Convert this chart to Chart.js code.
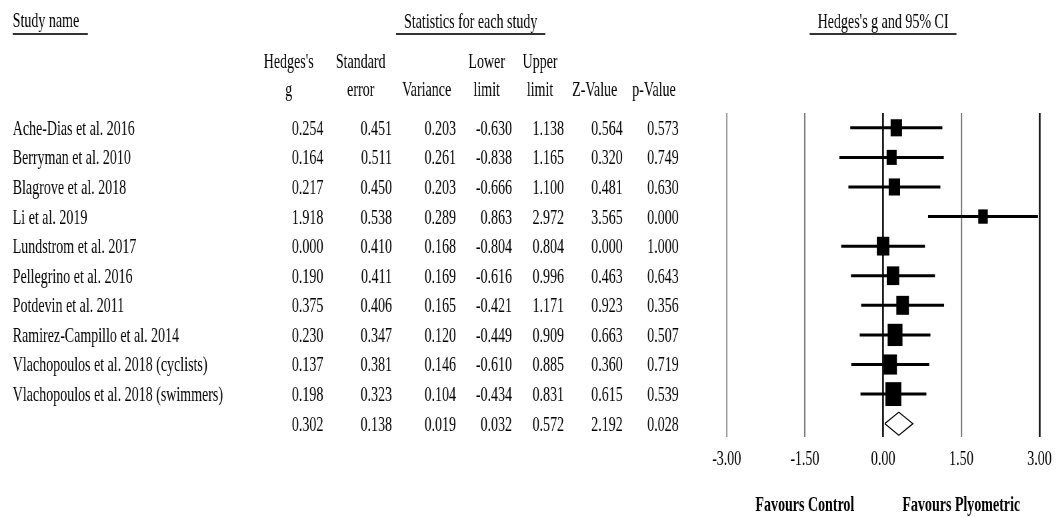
<!DOCTYPE html>
<html>
<head>
<meta charset="utf-8">
<script src="https://cdn.jsdelivr.net/npm/chart.js@4.4.1/dist/chart.umd.min.js"></script>
<style>
  html, body { margin: 0; padding: 0; background: #fff; overflow: hidden; }
  #wrap { position: relative; width: 1062px; height: 517px; overflow: hidden; }
  #c { position: absolute; left: 0; top: 0; transform: scaleX(0.6667); transform-origin: 0 0; }
</style>
</head>
<body>
<div id="wrap"><canvas id="c" width="1593" height="517"></canvas></div>
<script>
// ---------- data ----------
const studies = [
  "Ache-Dias et al. 2016",
  "Berryman et al. 2010",
  "Blagrove et al. 2018",
  "Li et al. 2019",
  "Lundstrom et al. 2017",
  "Pellegrino et al. 2016",
  "Potdevin et al. 2011",
  "Ramirez-Campillo et al. 2014",
  "Vlachopoulos et al. 2018 (cyclists)",
  "Vlachopoulos et al. 2018 (swimmers)"
];
const hedgesG    = [0.254, 0.164, 0.217, 1.918, 0.000, 0.190, 0.375, 0.230, 0.137, 0.198];
const stdError   = [0.451, 0.511, 0.450, 0.538, 0.410, 0.411, 0.406, 0.347, 0.381, 0.323];
const variance   = [0.203, 0.261, 0.203, 0.289, 0.168, 0.169, 0.165, 0.120, 0.146, 0.104];
const lowerLimit = [-0.630, -0.838, -0.666, 0.863, -0.804, -0.616, -0.421, -0.449, -0.610, -0.434];
const upperLimit = [1.138, 1.165, 1.100, 2.972, 0.804, 0.996, 1.171, 0.909, 0.885, 0.831];
const zValue     = [0.564, 0.320, 0.481, 3.565, 0.000, 0.463, 0.923, 0.663, 0.360, 0.615];
const pValue     = [0.573, 0.749, 0.630, 0.000, 1.000, 0.643, 0.356, 0.507, 0.719, 0.539];
// pooled: g, SE, variance, lower, upper, Z, p
const pooledStats = [0.302, 0.138, 0.019, 0.032, 0.572, 2.192, 0.028];

const headerLine1 = ["Hedges's", "Standard", "", "Lower", "Upper", "", ""];
const headerLine2 = ["g", "error", "Variance", "limit", "limit", "Z-Value", "p-Value"];
const xTickValues = [-3, -1.5, 0, 1.5, 3];
const favourLabels = ["Favours Control", "Favours Plyometric"];
const favourAt = [-1.5, 1.5];

// ---------- styling / layout (canvas drawn 1.5x wide, squeezed by CSS) ----------
const FONT = '"Liberation Serif", "Times New Roman", serif';
const FS = 21;
const colCenters = [433, 541, 640, 730, 810, 892, 981];
const colRights  = [485, 588, 684, 768, 846, 934, 1018];
const pooledRow = studies.length;
const gridColors = ['#9c9c9c', '#7c7c7c', '#1c1c1c', '#7c7c7c', '#1c1c1c'];

const columns = [hedgesG, stdError, variance, lowerLimit, upperLimit, zValue, pValue];

const tablePlugin = {
  id: 'forestTable',
  afterDraw(chart) {
    const ctx = chart.ctx;
    const ys = chart.scales.y, xs = chart.scales.x;
    ctx.save();
    ctx.fillStyle = '#000';
    ctx.textBaseline = 'alphabetic';
    ctx.font = FS + 'px ' + FONT;

    // titles + underlines
    ctx.strokeStyle = '#333';
    ctx.lineWidth = 2;
    ctx.textAlign = 'left';
    ctx.fillText('Study name', 19, 27);
    let w = ctx.measureText('Study name').width;
    ctx.beginPath(); ctx.moveTo(19, 34); ctx.lineTo(19 + w + 13, 34); ctx.stroke();

    ctx.textAlign = 'center';
    const statCx = 706;
    ctx.fillText('Statistics for each study', statCx, 28);
    w = ctx.measureText('Statistics for each study').width;
    ctx.beginPath(); ctx.moveTo(statCx - w / 2 - 12, 34); ctx.lineTo(statCx + w / 2 + 12, 34); ctx.stroke();

    const ciCx = xs.getPixelForValue(0);
    ctx.fillText("Hedges's g and 95% CI", ciCx, 28);
    w = ctx.measureText("Hedges's g and 95% CI").width;
    ctx.beginPath(); ctx.moveTo(ciCx - w / 2 - 12, 34); ctx.lineTo(ciCx + w / 2 + 12, 34); ctx.stroke();

    // column headers
    for (let c = 0; c < colCenters.length; c++) {
      if (headerLine1[c]) ctx.fillText(headerLine1[c], colCenters[c], 68);
      ctx.fillText(headerLine2[c], colCenters[c], 96);
    }

    // study rows
    const off = FS * 0.662 / 2;
    for (let i = 0; i < studies.length; i++) {
      const by = ys.getPixelForValue(i) + off;
      ctx.textAlign = 'left';
      ctx.fillText(studies[i], 19, by);
      ctx.textAlign = 'right';
      for (let c = 0; c < columns.length; c++) {
        ctx.fillText(columns[c][i].toFixed(3), colRights[c], by);
      }
    }
    // pooled row
    const py = ys.getPixelForValue(pooledRow) + off;
    ctx.textAlign = 'right';
    for (let c = 0; c < pooledStats.length; c++) {
      ctx.fillText(pooledStats[c].toFixed(3), colRights[c], py);
    }

    // favours labels
    ctx.font = 'bold ' + FS + 'px ' + FONT;
    ctx.textAlign = 'center';
    for (let k = 0; k < favourLabels.length; k++) {
      ctx.fillText(favourLabels[k], xs.getPixelForValue(favourAt[k]), 511);
    }
    ctx.restore();
  }
};

// ---------- datasets ----------
const squares = {
  label: 'Hedges g',
  data: hedgesG.map((g, i) => ({ x: g, y: i })),
  pointStyle: 'rect',
  pointRadius: variance.map(v => (7.7 / Math.sqrt(v)) / Math.SQRT2),
  pointHoverRadius: variance.map(v => (7.7 / Math.sqrt(v)) / Math.SQRT2),
  backgroundColor: '#000',
  borderWidth: 0,
  showLine: false
};

const ciLines = studies.map((s, i) => ({
  label: s,
  data: [{ x: lowerLimit[i], y: i }, { x: upperLimit[i], y: i }],
  showLine: true,
  borderColor: '#000',
  borderWidth: 3,
  borderCapStyle: 'butt',
  pointRadius: 0,
  pointHoverRadius: 0
}));

const dh = 0.39;
const diamond = {
  label: 'Pooled',
  data: [
    { x: pooledStats[3], y: pooledRow },
    { x: pooledStats[0], y: pooledRow - dh },
    { x: pooledStats[4], y: pooledRow },
    { x: pooledStats[0], y: pooledRow + dh },
    { x: pooledStats[3], y: pooledRow }
  ],
  showLine: true,
  borderColor: '#000',
  borderWidth: 1.3,
  borderJoinStyle: 'miter',
  backgroundColor: '#fff',
  fill: false,
  tension: 0,
  pointRadius: 0,
  pointHoverRadius: 0
};

new Chart(document.getElementById('c'), {
  type: 'scatter',
  data: { datasets: [squares, diamond, ...ciLines] },
  options: {
    responsive: false,
    animation: false,
    devicePixelRatio: 1,
    layout: { padding: { left: 1090, right: 34, top: 113, bottom: 44 } },
    plugins: { legend: { display: false }, tooltip: { enabled: false } },
    scales: {
      x: {
        type: 'linear',
        min: xTickValues[0],
        max: xTickValues[xTickValues.length - 1],
        afterBuildTicks: (axis) => { axis.ticks = xTickValues.map(v => ({ value: v })); },
        afterFit: (axis) => { axis.height = 36; },
        ticks: {
          color: '#000',
          padding: 10,
          maxRotation: 0,
          font: { family: FONT, size: FS },
          callback: (v) => Number(v).toFixed(2)
        },
        grid: {
          drawTicks: false,
          color: (c) => gridColors[xTickValues.indexOf(c.tick ? c.tick.value : NaN)] || '#888',
          lineWidth: (c) => (gridColors[xTickValues.indexOf(c.tick ? c.tick.value : NaN)] === '#1c1c1c' ? 2.8 : 2.2)
        },
        border: { display: false }
      },
      y: {
        type: 'linear',
        display: false,
        reverse: true,
        min: -0.5,
        max: 10.45
      }
    }
  },
  plugins: [tablePlugin]
});
</script>
</body>
</html>
